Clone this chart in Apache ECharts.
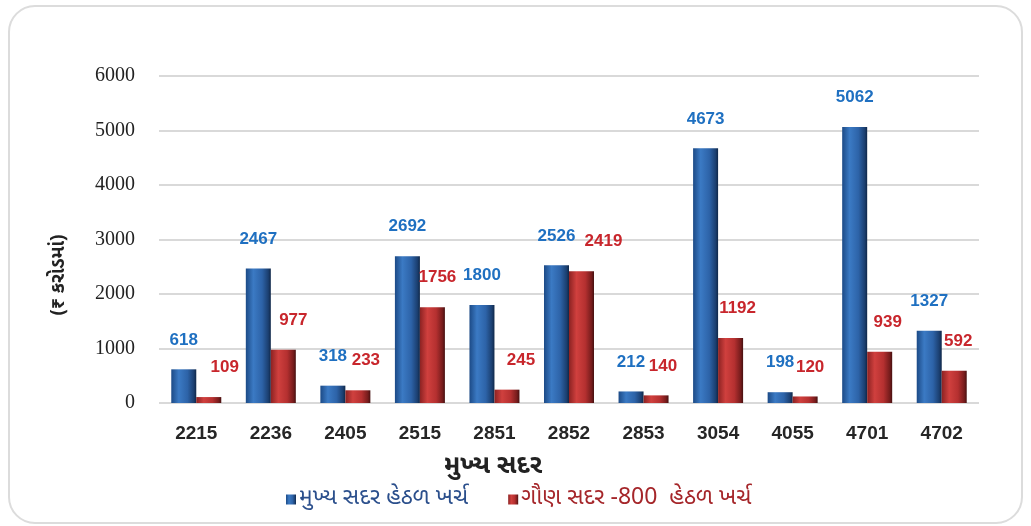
<!DOCTYPE html>
<html>
<head>
<meta charset="utf-8">
<script src="https://cdn.jsdelivr.net/npm/echarts@6/dist/echarts.min.js"></script>
<style>
html,body{margin:0;padding:0;background:#fff;}
#chart{width:1031px;height:526px;}
</style>
</head>
<body>
<div id="chart"></div>
<script>
const categories = ['2215','2236','2405','2515','2851','2852','2853','3054','4055','4701','4702'];
const mainHead = [618, 2467, 318, 2692, 1800, 2526, 212, 4673, 198, 5062, 1327];
const minorHead = [109, 977, 233, 1756, 245, 2419, 140, 1192, 120, 939, 592];
const yTicks = [0, 1000, 2000, 3000, 4000, 5000, 6000];
const seriesNames = ['મુખ્ય સદર હેઠળ ખર્ચ', 'ગૌણ સદર -800  હેઠળ ખર્ચ'];
const xAxisTitle = 'મુખ્ય સદર';
const yAxisTitle = '(₹ કરોડમાં)';

// label horizontal nudges (style only)
const redLabelDx = [16, 10, 8, 5, 14, 22, 7, 7, 5, 8, 4];

const guj = '"Noto Sans Gujarati","Lohit Gujarati","Noto Sans",Arial,sans-serif';

const blueGrad = new echarts.graphic.LinearGradient(0, 0, 1, 0, [
  {offset: 0, color: '#1c4a86'},
  {offset: 0.3, color: '#3b7ac4'},
  {offset: 0.65, color: '#2d63a8'},
  {offset: 0.9, color: '#1b3f70'},
  {offset: 1, color: '#0f2748'}
]);
const redGrad = new echarts.graphic.LinearGradient(0, 0, 1, 0, [
  {offset: 0, color: '#8c2222'},
  {offset: 0.3, color: '#d0403e'},
  {offset: 0.65, color: '#b53030'},
  {offset: 0.9, color: '#761c1c'},
  {offset: 1, color: '#461010'}
]);

const chart = echarts.init(document.getElementById('chart'), null, {renderer: 'canvas'});
chart.setOption({
  animation: false,
  backgroundColor: '#fff',
  graphic: [{
    type: 'rect',
    shape: {x: 9, y: 6, width: 1013, height: 517, r: 26},
    style: {fill: 'none', stroke: '#dcdcdc', lineWidth: 2},
    silent: true, z: -1
  }, {
    type: 'text',
    x: 493, y: 468,
    style: {text: xAxisTitle, font: 'bold 26px ' + guj, fill: '#222', textAlign: 'center', textVerticalAlign: 'middle'}
  }, {
    type: 'text',
    x: 60, y: 275,
    rotation: Math.PI / 2,
    style: {text: yAxisTitle, font: 'bold 19px ' + guj, fill: '#222', textAlign: 'center', textVerticalAlign: 'middle'}
  }],
  grid: {left: 159, right: 52, top: 76, bottom: 123},
  legend: {
    left: 281,
    top: 483,
    itemGap: 40,
    itemWidth: 10,
    itemHeight: 10,
    icon: 'rect',
    textStyle: {fontSize: 23, fontFamily: guj, padding: [0, 0, 0, -2]},
    data: [
      {name: seriesNames[0], textStyle: {color: '#2b4f8c'}},
      {name: seriesNames[1], textStyle: {color: '#a5262a'}}
    ]
  },
  xAxis: {
    type: 'category',
    data: categories,
    axisLine: {show: false},
    axisTick: {show: false},
    axisLabel: {fontSize: 19, fontWeight: 'bold', color: '#262626', fontFamily: 'Liberation Sans, Arial, sans-serif', margin: 21}
  },
  yAxis: {
    type: 'value',
    min: yTicks[0],
    max: yTicks[yTicks.length - 1],
    interval: 1000,
    axisLine: {show: false},
    axisTick: {show: false},
    axisLabel: {fontSize: 20, color: '#222', fontFamily: 'Liberation Serif, Times New Roman, serif', margin: 24, formatter: v => String(v)},
    splitLine: {lineStyle: {color: '#d9d9d9', width: 2}}
  },
  series: [{
    name: seriesNames[0],
    type: 'bar',
    barWidth: 25,
    barGap: '0%',
    data: mainHead,
    itemStyle: {color: blueGrad},
    label: {show: true, position: 'top', distance: 21, fontSize: 17, fontWeight: 'bold', color: '#1f70c1', fontFamily: 'Liberation Sans, Arial, sans-serif'}
  }, {
    name: seriesNames[1],
    type: 'bar',
    barWidth: 25,
    data: minorHead.map((v, i) => ({value: v, label: {offset: [redLabelDx[i], 0]}})),
    itemStyle: {color: redGrad},
    label: {show: true, position: 'top', distance: 21, fontSize: 17, fontWeight: 'bold', color: '#c8262c', fontFamily: 'Liberation Sans, Arial, sans-serif'}
  }]
});
</script>
</body>
</html>
